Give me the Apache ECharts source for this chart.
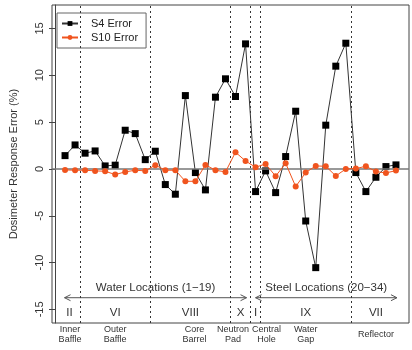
<!DOCTYPE html>
<html>
<head>
<meta charset="utf-8">
<script src="https://cdn.jsdelivr.net/npm/echarts@6/dist/echarts.min.js"></script>
<style>
html, body { margin: 0; padding: 0; background: #fff; }
#chart { width: 412px; height: 350px; }
</style>
</head>
<body>
<div id="chart"></div>
<script>
// dosimeter locations 1..34
const locations = Array.from({ length: 34 }, (_, i) => i + 1)
const s4Error = [1.42, 2.56, 1.68, 1.92, 0.32, 0.4, 4.13, 3.77, 0.99, 1.89,
	-1.67, -2.7, 7.83, -0.39, -2.24, 7.66, 9.62, 7.73, 13.35,
	-2.42, -0.21, -2.53, 1.32, 6.16, -5.56, -10.54, 4.67, 10.97, 13.42,
	-0.39, -2.42, -0.89, 0.25, 0.43]
const s10Error = [-0.11, -0.14, -0.14, -0.21, -0.25, -0.6, -0.32, -0.14, -0.21, 0.4,
	-0.14, -0.14, -1.32, -1.32, 0.43, -0.14, -0.32, 1.78, 0.85,
	0.18, 0.53, -0.78, 0.61, -1.89, -0.39, 0.32, 0.28, -0.75, 0,
	0.04, 0.28, -0.28, -0.43, -0.18]
const yTicks = [-15, -10, -5, 0, 5, 10, 15]

// region boundaries and annotations (data units)
const regionBounds = [2.5, 9.5, 17.5, 19.5, 20.5, 29.5]
const groupNames = ["Water Locations (1\u221219)", "Steel Locations (20\u221234)"]
const groupStart = [0.95, 20]
const groupEnd = [19.1, 34.1]
const numerals = ["II", "VI", "VIII", "X", "I", "IX", "VII"]
const numeralX = [1.45, 6, 13.5, 18.5, 20, 25, 32]
const regionNames = ["Inner\nBaffle", "Outer\nBaffle", "Core\nBarrel", "Neutron\nPad", "Central\nHole", "Water\nGap", "Reflector"]
const regionNameX = [1.5, 6, 13.9, 17.75, 21.1, 25, 32]

const yMin = -16.45
const yMax = 17.5
const font = "Liberation Sans"
const ink = "#333"

const chart = echarts.init(document.getElementById("chart"))

function textEl(x, y, text, size, extra) {
	return {
		type: "text",
		x: x,
		y: y,
		style: Object.assign({
			text: text,
			fontFamily: font,
			fontSize: size,
			fill: ink,
			align: "center",
			verticalAlign: "middle",
		}, extra || {}),
	}
}

function arrowEl(p1, p2) {
	const h = 6
	const dy = 3
	const stroke = { stroke: "#555", lineWidth: 1 }
	return {
		type: "group",
		children: [
			{ type: "line", shape: { x1: p1[0], y1: p1[1], x2: p2[0], y2: p2[1] }, style: stroke },
			{ type: "polyline", shape: { points: [[p1[0] + h, p1[1] - dy], [p1[0], p1[1]], [p1[0] + h, p1[1] + dy]] }, style: Object.assign({ fill: null }, stroke) },
			{ type: "polyline", shape: { points: [[p2[0] - h, p2[1] - dy], [p2[0], p2[1]], [p2[0] - h, p2[1] + dy]] }, style: Object.assign({ fill: null }, stroke) },
		],
	}
}

const option = {
	animation: false,
	grid: {
		left: 51,
		top: 5,
		right: 3,
		bottom: 27,
		show: true,
		borderColor: "#444",
		borderWidth: 1,
	},
	legend: {
		orient: "vertical",
		left: 57,
		top: 13,
		data: ["S4 Error", "S10 Error"],
		borderColor: "#666",
		borderWidth: 1,
		borderRadius: 0,
		padding: [5, 8, 5, 4],
		itemGap: 3,
		itemWidth: 16,
		itemHeight: 6,
		textStyle: { fontFamily: font, fontSize: 11, color: "#222", padding: [0, 0, 0, 8] },
	},
	xAxis: {
		type: "value",
		min: -0.3,
		max: 35.3,
		axisLine: { show: false },
		axisTick: { show: false },
		axisLabel: { show: false },
		splitLine: { show: false },
	},
	yAxis: {
		type: "value",
		min: yMin,
		max: yMax,
		name: "Dosimeter Response Error (%)",
		nameLocation: "middle",
		nameGap: 33,
		nameTextStyle: { fontFamily: font, fontSize: 11, color: ink },
		axisLine: { show: true, lineStyle: { color: "#444" } },
		axisTick: { show: true, length: 6, customValues: yTicks, lineStyle: { color: "#444" } },
		axisLabel: { customValues: yTicks, rotate: 90, fontFamily: font, fontSize: 11, color: ink, margin: 7 },
		splitLine: { show: false },
	},
	series: [
		{
			name: "S4 Error",
			type: "line",
			data: locations.map((x, i) => [x, s4Error[i]]),
			symbol: "rect",
			symbolSize: 7,
			color: "#000",
			lineStyle: { color: "#333", width: 1 },
			itemStyle: { color: "#000" },
			z: 4,
			markLine: {
				silent: true,
				symbol: "none",
				label: { show: false },
				lineStyle: { color: "#333", type: [2, 3], width: 1 },
				data: regionBounds.map((b) => ({ xAxis: b })),
			},
		},
		{
			name: "S10 Error",
			type: "line",
			data: locations.map((x, i) => [x, s10Error[i]]),
			symbol: "circle",
			symbolSize: 6,
			color: "#F0541E",
			lineStyle: { color: "#F0541E", width: 1 },
			itemStyle: { color: "#F0541E" },
			z: 5,
			markLine: {
				silent: true,
				symbol: "none",
				label: { show: false },
				lineStyle: { color: "#777", type: "solid", width: 1.5 },
				data: [{ yAxis: 0 }],
			},
		},
		{
			// arrows and group titles
			type: "custom",
			silent: true,
			data: groupNames.map((n, i) => [groupStart[i], groupEnd[i]]),
			renderItem(params, api) {
				const i = params.dataIndex
				const a = api.coord([groupStart[i], -13.75])
				const b = api.coord([groupEnd[i], -13.75])
				const t = api.coord([(groupStart[i] + groupEnd[i]) / 2, -12.7])
				return {
					type: "group",
					children: [arrowEl(a, b), textEl(t[0], t[1], groupNames[i], 11.5)],
				}
			},
		},
		{
			// roman numerals inside the plot
			type: "custom",
			silent: true,
			data: numeralX.map((x) => [x, -15.35]),
			renderItem(params, api) {
				const p = api.coord([api.value(0), api.value(1)])
				return textEl(p[0], p[1], numerals[params.dataIndex], 11.5)
			},
		},
		{
			// region names under the plot
			type: "custom",
			silent: true,
			clip: false,
			data: regionNameX.map((x) => [x, yMin]),
			renderItem(params, api) {
				const p = api.coord([api.value(0), api.value(1)])
				return textEl(p[0], p[1] + 12, regionNames[params.dataIndex], 9, { lineHeight: 10 })
			},
		},
	],
}

chart.setOption(option)
</script>
</body>
</html>
